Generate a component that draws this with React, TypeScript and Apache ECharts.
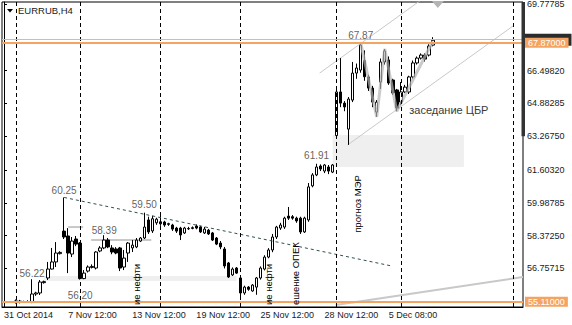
import React, { useEffect, useRef } from "react";
import * as echarts from "echarts";

// ---- DATA ----
const SLOT_COUNT = 130;
const tickIndex = [0, 16, 32, 48, 64, 80, 96];
const tickLabels = ["31 Oct 2014", "7 Nov 12:00", "13 Nov 12:00", "19 Nov 12:00", "25 Nov 12:00", "28 Nov 12:00", "5 Dec 08:00"];
const yTickValues = [56.75715, 58.3725, 59.98785, 61.6032, 63.2675, 64.88285, 66.4982, 69.77785];

// [slot, open, close, low, high]
const candles: number[][] = [
  [3, 55.15, 55.08, 55.02, 55.22], [4, 55.08, 55.14, 55.03, 55.2], [5, 55.12, 55.1, 55.06, 55.16], [6, 55.1, 55.12, 55.06, 55.18],
  [7, 55.1, 55.49, 55.04, 56.22], [8, 55.49, 55.54, 55.4, 55.6], [9, 55.54, 56.08, 55.44, 56.18], [10, 56.05, 56.1, 56.0, 56.15],
  [11, 56.28, 56.72, 56.18, 57.07], [12, 56.72, 57.07, 56.7, 57.76], [13, 57.07, 57.51, 56.82, 58.05], [14, 57.48, 57.54, 57.44, 57.6],
  [15, 58.59, 58.3, 58.2, 60.25], [16, 58.35, 57.51, 56.52, 58.74], [17, 57.46, 58.1, 57.31, 58.3], [18, 58.2, 57.95, 57.85, 58.35],
  [19, 58.0, 56.25, 56.2, 58.05], [20, 56.25, 56.52, 56.22, 56.67], [21, 56.62, 56.82, 56.55, 56.9], [22, 56.8, 56.85, 56.75, 56.95],
  [23, 56.77, 57.56, 56.7, 57.6], [24, 57.61, 57.76, 57.55, 57.85], [25, 57.76, 58.15, 57.7, 58.39], [26, 58.15, 57.81, 57.75, 58.25],
  [27, 57.76, 57.56, 57.45, 57.9], [28, 57.71, 57.51, 57.45, 57.8], [29, 57.76, 56.77, 56.62, 57.81], [30, 56.82, 57.26, 56.67, 57.66],
  [31, 57.51, 58.0, 57.07, 58.05], [32, 57.76, 57.9, 57.56, 58.15], [33, 57.81, 58.15, 57.75, 58.25], [34, 58.1, 58.25, 58.05, 58.3],
  [35, 58.25, 58.79, 58.2, 59.5], [36, 59.14, 58.55, 58.45, 59.3], [37, 58.6, 59.2, 58.5, 59.35], [38, 59.0, 59.18, 58.9, 59.25],
  [39, 59.05, 58.95, 58.85, 59.5], [40, 59.04, 58.89, 58.8, 59.1], [41, 58.92, 58.96, 58.85, 59.0], [42, 58.89, 58.69, 58.6, 58.95],
  [43, 58.74, 58.59, 58.5, 58.8], [44, 58.74, 58.4, 58.15, 58.8], [45, 58.5, 58.74, 58.45, 58.8], [46, 58.7, 58.72, 58.65, 58.8],
  [47, 58.72, 58.76, 58.68, 58.82], [48, 58.84, 58.74, 58.68, 58.92], [49, 58.79, 58.55, 58.5, 58.85], [50, 58.5, 58.69, 58.45, 58.8],
  [51, 58.64, 58.45, 58.4, 58.7], [52, 58.5, 58.15, 58.1, 58.55], [53, 58.25, 57.95, 57.9, 58.3], [54, 58.0, 57.81, 57.7, 58.1],
  [55, 57.71, 56.87, 56.75, 57.81], [56, 57.02, 56.33, 56.28, 57.07], [57, 56.43, 56.72, 56.38, 56.8], [58, 56.77, 56.52, 56.48, 56.82],
  [59, 56.28, 55.54, 55.29, 56.33], [60, 55.54, 55.83, 55.45, 55.9], [61, 55.83, 55.72, 55.65, 55.88], [62, 55.64, 55.93, 55.6, 55.98],
  [63, 55.83, 56.28, 55.45, 56.33], [64, 56.28, 56.77, 56.2, 56.85], [65, 56.72, 57.31, 56.65, 57.4], [66, 57.31, 57.66, 57.25, 57.75],
  [67, 57.66, 58.3, 57.55, 58.45], [68, 58.3, 58.79, 58.2, 58.85], [69, 58.74, 58.89, 58.65, 59.0], [70, 58.79, 59.23, 58.7, 59.3],
  [71, 59.33, 59.23, 59.14, 59.78], [72, 59.3, 59.23, 59.15, 59.38], [73, 59.23, 59.09, 59.0, 59.3], [74, 59.23, 58.55, 58.45, 59.3],
  [75, 58.55, 59.23, 58.5, 59.3], [76, 59.14, 60.77, 59.05, 60.96], [77, 60.82, 61.36, 60.75, 61.45], [78, 61.36, 61.75, 61.3, 61.91],
  [79, 61.8, 61.65, 61.55, 61.88], [80, 61.55, 61.85, 61.45, 61.9], [81, 61.75, 61.55, 61.4, 61.85], [82, 61.5, 61.85, 61.45, 61.9],
  [83, 63.3, 65.45, 63.23, 65.55], [84, 65.45, 64.9, 64.7, 67.12], [85, 64.9, 64.71, 64.5, 65.0], [86, 63.62, 65.1, 62.84, 65.2],
  [87, 65.05, 66.38, 64.95, 66.93], [88, 66.38, 66.63, 66.1, 66.85], [89, 66.53, 67.76, 66.4, 67.87], [90, 67.0, 66.2, 66.0, 67.5],
  [91, 66.19, 65.64, 65.5, 66.3], [92, 65.64, 64.95, 64.7, 65.75], [93, 64.46, 64.95, 64.22, 65.05], [94, 65.94, 66.93, 65.6, 67.1],
  [95, 66.93, 67.47, 66.8, 67.57], [96, 67.03, 65.89, 65.8, 67.2], [97, 66.04, 65.4, 65.3, 66.1], [98, 65.55, 64.66, 64.5, 65.6],
  [99, 64.95, 65.45, 64.8, 65.94], [100, 65.45, 65.69, 65.4, 65.8], [101, 65.45, 66.19, 65.35, 66.25], [102, 66.19, 66.88, 66.1, 67.0],
  [103, 66.88, 67.12, 66.8, 67.2], [104, 67.12, 67.27, 67.05, 67.35], [105, 67.27, 67.07, 66.95, 67.35], [106, 67.27, 67.71, 67.2, 67.8],
  [107, 67.76, 68.0, 67.7, 68.15],
];

// zigzag price labels: [slot, value, position, distance]
const priceMarks: [number, number, string, number][] = [
  [7, 56.22, "top", 1], [15, 60.25, "top", 2], [19, 56.2, "bottom", 11], [25, 58.39, "top", 0],
  [35, 59.5, "top", 3], [78, 61.91, "top", 3], [89, 67.87, "top", 2],
];

const separators = [3, 19, 39, 59, 83, 99, 127];
const resistanceLine = 67.87;
const supportLine = 55.11;
const bidLine = 68.03;

const dashedTrend = [[15, 60.25], [97, 56.86]];
const channelUpper = [[78.75, 66.38], [106.5, 70.33]];
const channelLower = [[85.75, 62.84], [127, 68.7]];
const bottomTrend = [[82.75, 54.95], [129.5, 56.33]];
const zigzag = [[89, 67.87], [93, 64.22], [95, 67.57], [98, 64.5], [107, 67.95]];
const shortLineA = [[16, 58.79], [19.75, 58.79]];
const shortLineB = [[21.75, 58.15], [36.75, 58.15]];
const bands = [
  [10, 56.38, 58, 56.13],
  [82, 63.33, 114.75, 61.75],
];

// annotations: [text, slot, value, rotated, anchor]
const annotations: [string, number, number, boolean, string][] = [
  ["заседание ЦБР", 111, 64.56, false, "center"],
  ["прогноз МЭР", 88.25, 59.93, true, "center"],
  ["ие нефти", 33, 54.95, true, "left"],
  ["ие нефти", 66, 54.95, true, "left"],
  ["ешение ОПЕК", 72.75, 54.95, true, "left"],
];

const FONT = "'Liberation Sans', Arial, sans-serif";
const ORANGE = "#f4a460";

export default function App() {
  const ref = useRef<HTMLDivElement>(null);
  useEffect(() => {
    document.body.style.margin = "0";
    const chart = echarts.init(ref.current!, null, { renderer: "svg" });
    const slots = Array.from({ length: SLOT_COUNT }, (_, i) => String(i));
    const labelMap: Record<number, string> = {};
    tickIndex.forEach((t, k) => (labelMap[t] = tickLabels[k]));

    const line = (data: number[][], color: string, width: number, type: any, z: number, opacity = 1) => ({
      type: "line", xAxisIndex: 1, yAxisIndex: 0, data, symbol: "none", silent: true, z,
      lineStyle: { color, width, type, opacity }, clip: true,
    });

    const option: any = {
      animation: false,
      backgroundColor: "#ffffff",
      textStyle: { fontFamily: FONT },
      grid: { left: 2, right: 49, top: 2, bottom: 18, show: true, borderColor: "#000", borderWidth: 1, outerBoundsMode: "none" },
      xAxis: [
        {
          type: "category", data: slots, boundaryGap: true,
          axisLine: { lineStyle: { color: "#000" } },
          axisTick: { alignWithLabel: true, length: 4, interval: (i: number) => i % 16 === 0 && i > 0, lineStyle: { color: "#000" } },
          axisLabel: {
            interval: (i: number) => labelMap[i] !== undefined, formatter: (v: string) => labelMap[Number(v)] ?? "",
            align: "left", margin: 3, fontSize: 9, color: "#1a1a1a", fontFamily: FONT,
          },
          splitLine: { show: false },
        },
        { type: "value", min: -0.5, max: SLOT_COUNT - 0.5, show: false },
      ],
      yAxis: [
        {
          type: "value", position: "right", min: 54.849, max: 69.885, scale: true,
          splitLine: { show: false },
          axisLine: { show: true, lineStyle: { color: "#000" } },
          axisTick: { show: true, length: 3, customValues: yTickValues, lineStyle: { color: "#000" } },
          axisLabel: { customValues: yTickValues, formatter: (v: number) => v.toFixed(5), fontSize: 9, margin: 4, color: "#1a1a1a", fontFamily: FONT },
        },
      ],
      series: [
        {
          type: "line", xAxisIndex: 1, yAxisIndex: 0, data: [], silent: true, z: 0,
          markArea: {
            silent: true, itemStyle: { color: "#efefef" },
            data: bands.map((b) => [{ xAxis: b[0], yAxis: b[1] }, { xAxis: b[2], yAxis: b[3] }]),
          },
          markLine: {
            silent: true, symbol: "none", label: { show: false },
            lineStyle: { color: "#000", type: [4, 3], width: 1 },
            data: separators.map((s) => ({ xAxis: s })),
          },
        },
        line(shortLineA, "#c8c8c8", 2, "solid", 1),
        line(shortLineB, "#c8c8c8", 2, "solid", 1),
        line(channelUpper, "#c8c8c8", 1, "solid", 1),
        line(channelLower, "#c8c8c8", 1, "solid", 1),
        line(bottomTrend, "#c8c8c8", 2, "solid", 1),
        {
          type: "candlestick", xAxisIndex: 0, yAxisIndex: 0, z: 2, barWidth: 3,
          data: candles, encode: { x: 0, y: [1, 2, 3, 4] },
          itemStyle: { color: "#ffffff", color0: "#000000", borderColor: "#000000", borderColor0: "#000000", borderWidth: 1 },
        },
        line(zigzag, "#b4b4b4", 3, "solid", 3, 0.7),
        line(dashedTrend, "#2f4f4f", 1, [3, 3], 3),
        {
          type: "line", xAxisIndex: 1, yAxisIndex: 0, data: [], silent: true, z: 4,
          markLine: {
            silent: true, symbol: "none",
            data: [
              { yAxis: bidLine, lineStyle: { color: "#c0c0c0", width: 1, type: "solid" },
                label: { show: true, position: "end", distance: 2, formatter: " ", color: "#fff", backgroundColor: "#2b2b2b", padding: [2, 22, 1, 22], fontSize: 9, fontFamily: FONT } },
            ],
          },
        },
        {
          type: "line", xAxisIndex: 1, yAxisIndex: 0, data: [], silent: true, z: 5,
          markLine: {
            silent: true, symbol: "none",
            data: [resistanceLine, supportLine].map((v) => ({
              yAxis: v, lineStyle: { color: ORANGE, width: 2, type: "solid" },
              label: { show: true, position: "end", distance: 2, formatter: v.toFixed(5), color: "#fff", backgroundColor: ORANGE, padding: [1, 3, 0, 3], fontSize: 9, fontFamily: FONT },
            })),
          },
        },
        {
          type: "scatter", xAxisIndex: 1, yAxisIndex: 0, symbolSize: 0, silent: true, z: 6,
          data: priceMarks.map((p) => ({ value: [p[0], p[1]], label: { position: p[2], distance: p[3] } })),
          label: { show: true, formatter: (p: any) => p.value[1].toFixed(2), color: "#3a3632", fontSize: 10, fontFamily: FONT },
        },
      ],
    };
    chart.setOption(option);

    const px = (slot: number, v: number) => chart.convertToPixel({ xAxisIndex: 1, yAxisIndex: 0 }, [slot, v]) as number[];
    const graphics: any[] = [];
    graphics.push({ type: "polygon", shape: { points: [[7, 9], [13, 9], [10, 12.5]] }, style: { fill: "#000" }, z: 10 });
    graphics.push({ type: "text", x: 18, y: 10.5, style: { text: "EURRUB,H4", fill: "#1a1a1a", font: `9.5px ${FONT}`, textAlign: "left", textVerticalAlign: "middle" }, z: 10 });
    const topArrow = px(108.25, 69.8);
    graphics.push({ type: "polygon", shape: { points: [[topArrow[0] - 6, 1], [topArrow[0] + 6, 1], [topArrow[0], 8]] }, style: { fill: "#b4b4b4" }, z: 10 });
    const [bx, byTop] = px(SLOT_COUNT - 0.5, 69.885);
    const byBot = px(SLOT_COUNT - 0.5, 63.2675)[1];
    graphics.push({ type: "rect", shape: { x: bx - 1.5, y: byTop, width: 3.5, height: byBot - byTop }, style: { fill: "#333" }, z: 10 });
    annotations.forEach(([text, s, v, rot, anchor]) => {
      const [x, y] = px(s, v);
      graphics.push({
        type: "text", x, y, rotation: rot ? Math.PI / 2 : 0, z: 10,
        style: { text, fill: rot ? "#000" : "#3a3a3a", font: `${rot ? 9.5 : 11}px ${FONT}`, textAlign: anchor, textVerticalAlign: "middle" },
      });
    });
    chart.setOption({ graphic: graphics });

    return () => chart.dispose();
  }, []);
  return <div ref={ref} style={{ position: "fixed", left: 0, top: 0, width: 572, height: 325 }} />;
}
